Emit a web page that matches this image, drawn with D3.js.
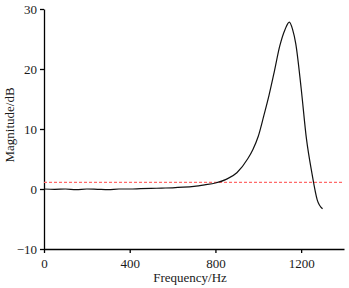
<!DOCTYPE html>
<html><head><meta charset="utf-8">
<script src="https://cdn.jsdelivr.net/npm/d3@7"></script>
<style>body{margin:0;background:#fff} svg text{font-family:"Liberation Serif","Times New Roman",Times,serif;}</style>
</head><body>
<svg id="c" width="349" height="288"></svg>
<script>
const freq = [0,50,100,150,200,250,300,350,400,450,500,550,600,650,700,750,800,850,900,950,975,1000,1025,1050,1075,1100,1125,1145,1160,1175,1200,1225,1250,1275,1300];
const magnitude = [0,-0.05,0,-0.1,0,-0.05,-0.1,0,0,0.05,0.1,0.15,0.2,0.3,0.45,0.7,1.0,1.6,2.7,5.0,6.6,8.8,12.1,15.6,19.6,23.8,26.6,27.8,26.6,24.2,16.8,8.3,2.7,-1.8,-3.3];
const thresholdDb = 1.1;
const xTicks = [0,400,800,1200];
const yTicks = [-10,0,10,20,30];

const svg = d3.select('#c');
const m = {l:44, r:5, t:9, b:39};
const W = 349, H = 288;
const x = d3.scaleLinear().domain([0,1400]).range([m.l, W - m.r]);
const y = d3.scaleLinear().domain([-10,30]).range([H - m.b, m.t]);

const gx = svg.append('g').attr('transform',`translate(0,${H-m.b})`)
  .call(d3.axisBottom(x).tickValues(xTicks).tickSize(4).tickSizeOuter(0).tickFormat(d3.format('d')));
const gy = svg.append('g').attr('transform',`translate(${m.l},0)`)
  .call(d3.axisLeft(y).tickValues(yTicks).tickSize(4).tickSizeOuter(0)
    .tickFormat(d => d < 0 ? '\u2212' + Math.abs(d) : d));
[gx, gy].forEach(g => {
  g.attr('font-family',null);
  g.selectAll('path,line').attr('stroke','#000').attr('stroke-width',1.3);
  g.selectAll('text').attr('font-size',13).attr('fill','#1a1a1a');
});
gx.selectAll('text').attr('dy','0.9em');

svg.append('line').attr('x1',x(0)).attr('x2',x(1400)).attr('y1',y(thresholdDb)).attr('y2',y(thresholdDb))
  .attr('stroke','#ff6a6a').attr('stroke-width',1.3).attr('stroke-dasharray','3,2');

const line = d3.line().x((d,i)=>x(freq[i])).y(d=>y(d)).curve(d3.curveMonotoneX);
svg.append('path').attr('d',line(magnitude)).attr('fill','none').attr('stroke','#111').attr('stroke-width',1.2);

svg.append('text').attr('x',190).attr('y',282).attr('text-anchor','middle')
  .attr('font-size',13).attr('fill','#1a1a1a').text('Frequency/Hz');
svg.append('text').attr('transform',`translate(14,125) rotate(-90)`).attr('text-anchor','middle')
  .attr('font-size',13).attr('fill','#1a1a1a').text('Magnitude/dB');
</script>
</body></html>
